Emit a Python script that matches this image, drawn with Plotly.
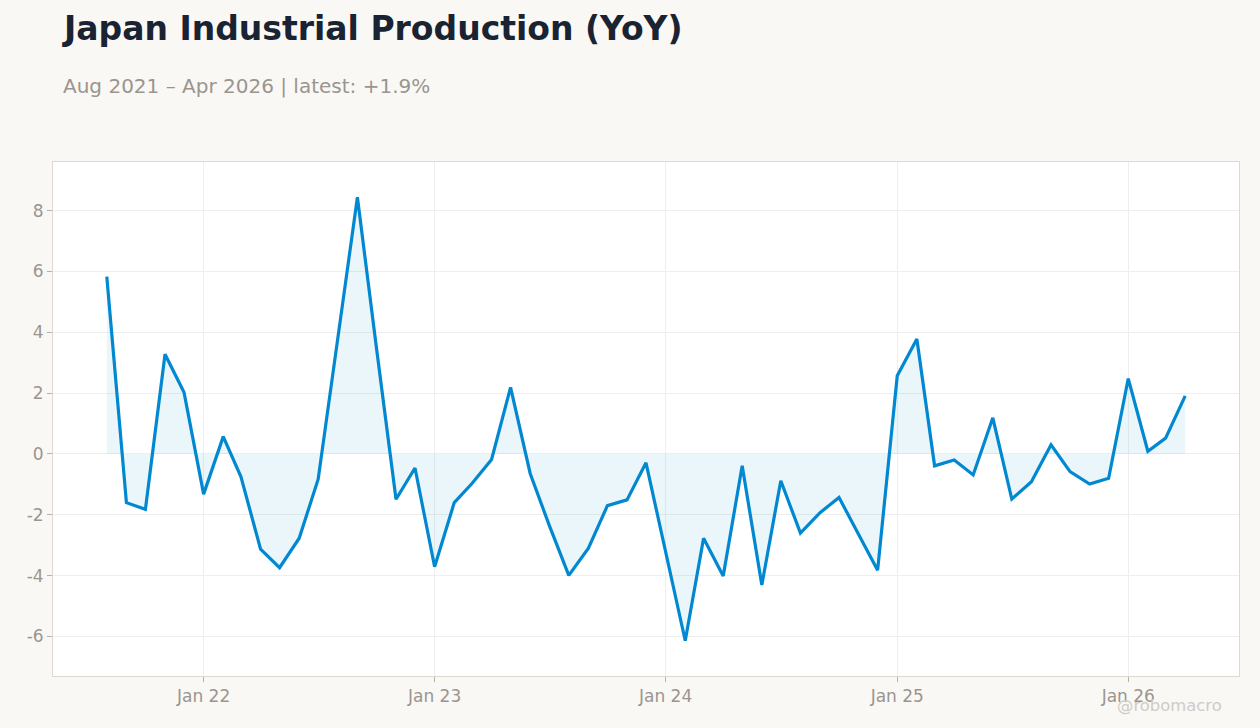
import pandas as pd
import plotly.graph_objects as go

# Monatsdaten (YoY in %), Aug 2021 bis Apr 2026
months = pd.date_range("2021-08-01", "2026-04-01", freq="MS")
yoy = [
    5.83, -1.60, -1.82, 3.28, 2.03,                                          # 2021
    -1.32, 0.57, -0.75, -3.13, -3.74, -2.77, -0.83, 3.80, 8.44, 3.50, -1.49, -0.46,  # 2022
    -3.71, -1.60, -0.97, -0.18, 2.19, -0.64, -2.34, -3.99, -3.10, -1.70, -1.51, -0.29,  # 2023
    -3.20, -6.14, -2.77, -4.01, -0.39, -4.31, -0.88, -2.60, -1.93, -1.43, -2.65, -3.82,  # 2024
    2.57, 3.78, -0.39, -0.20, -0.69, 1.19, -1.48, -0.91, 0.30, -0.58, -0.99, -0.80,   # 2025
    2.48, 0.09, 0.52, 1.91,                                                  # 2026
]
y_ticks = [-6, -4, -2, 0, 2, 4, 6, 8]
y_ticklabels = ["-6", "-4", "-2", "0", "2", "4", "6", "8"]

title = "Japan Industrial Production (YoY)"
subtitle = "Aug 2021 – Apr 2026 | latest: +1.9%"

FONT = "DejaVu Sans"
LINE = "#0288d1"
GRAY = "#9a958f"

fig = go.Figure()
fig.add_trace(go.Scatter(
    x=months, y=yoy,
    mode="lines",
    line=dict(color=LINE, width=3.2),
    fill="tozeroy",
    fillcolor="rgba(2,136,209,0.08)",
    showlegend=False,
))

fig.update_layout(
    width=1260, height=728,
    paper_bgcolor="#f9f8f5",
    plot_bgcolor="#ffffff",
    margin=dict(l=53, r=21, t=162, b=52),
    font=dict(family=FONT, color=GRAY, size=17),
    annotations=[
        dict(text="<b>" + title + "</b>", xref="paper", yref="paper",
             x=0.0059, y=1.2588, xanchor="left", yanchor="middle",
             showarrow=False, font=dict(size=33, color="#1a2332")),
        dict(text=subtitle, xref="paper", yref="paper",
             x=0.0068, y=1.1479, xanchor="left", yanchor="middle",
             showarrow=False, font=dict(size=20, color=GRAY)),
        dict(text="@robomacro", xref="paper", yref="paper",
             x=0.9874, y=-0.058, xanchor="right", yanchor="middle",
             showarrow=False, font=dict(size=16.4, color="#cfccc7")),
    ],
)

fig.update_xaxes(
    range=["2021-05-08", "2026-06-25"],
    tick0="2022-01-01", dtick="M12", tickformat="%b %y",
    showgrid=True, gridcolor="#eeeeee",
    ticks="outside", ticklen=5, tickcolor="#b5b0a8",
    showline=True, linecolor="#ddd8d0", mirror=True,
    zeroline=False,
)
fig.update_yaxes(
    range=[-7.3, 9.6],
    tickvals=y_ticks, ticktext=y_ticklabels,
    showgrid=True, gridcolor="#eeeeee",
    ticks="outside", ticklen=5, tickcolor="#b5b0a8",
    showline=True, linecolor="#ddd8d0", mirror=True,
    zeroline=False,
)

# Seitenrand entfernen, damit die Grafik bündig sitzt
fig.write_html("out.html", config={"displayModeBar": False},
               post_script="document.body.style.margin='0';")
